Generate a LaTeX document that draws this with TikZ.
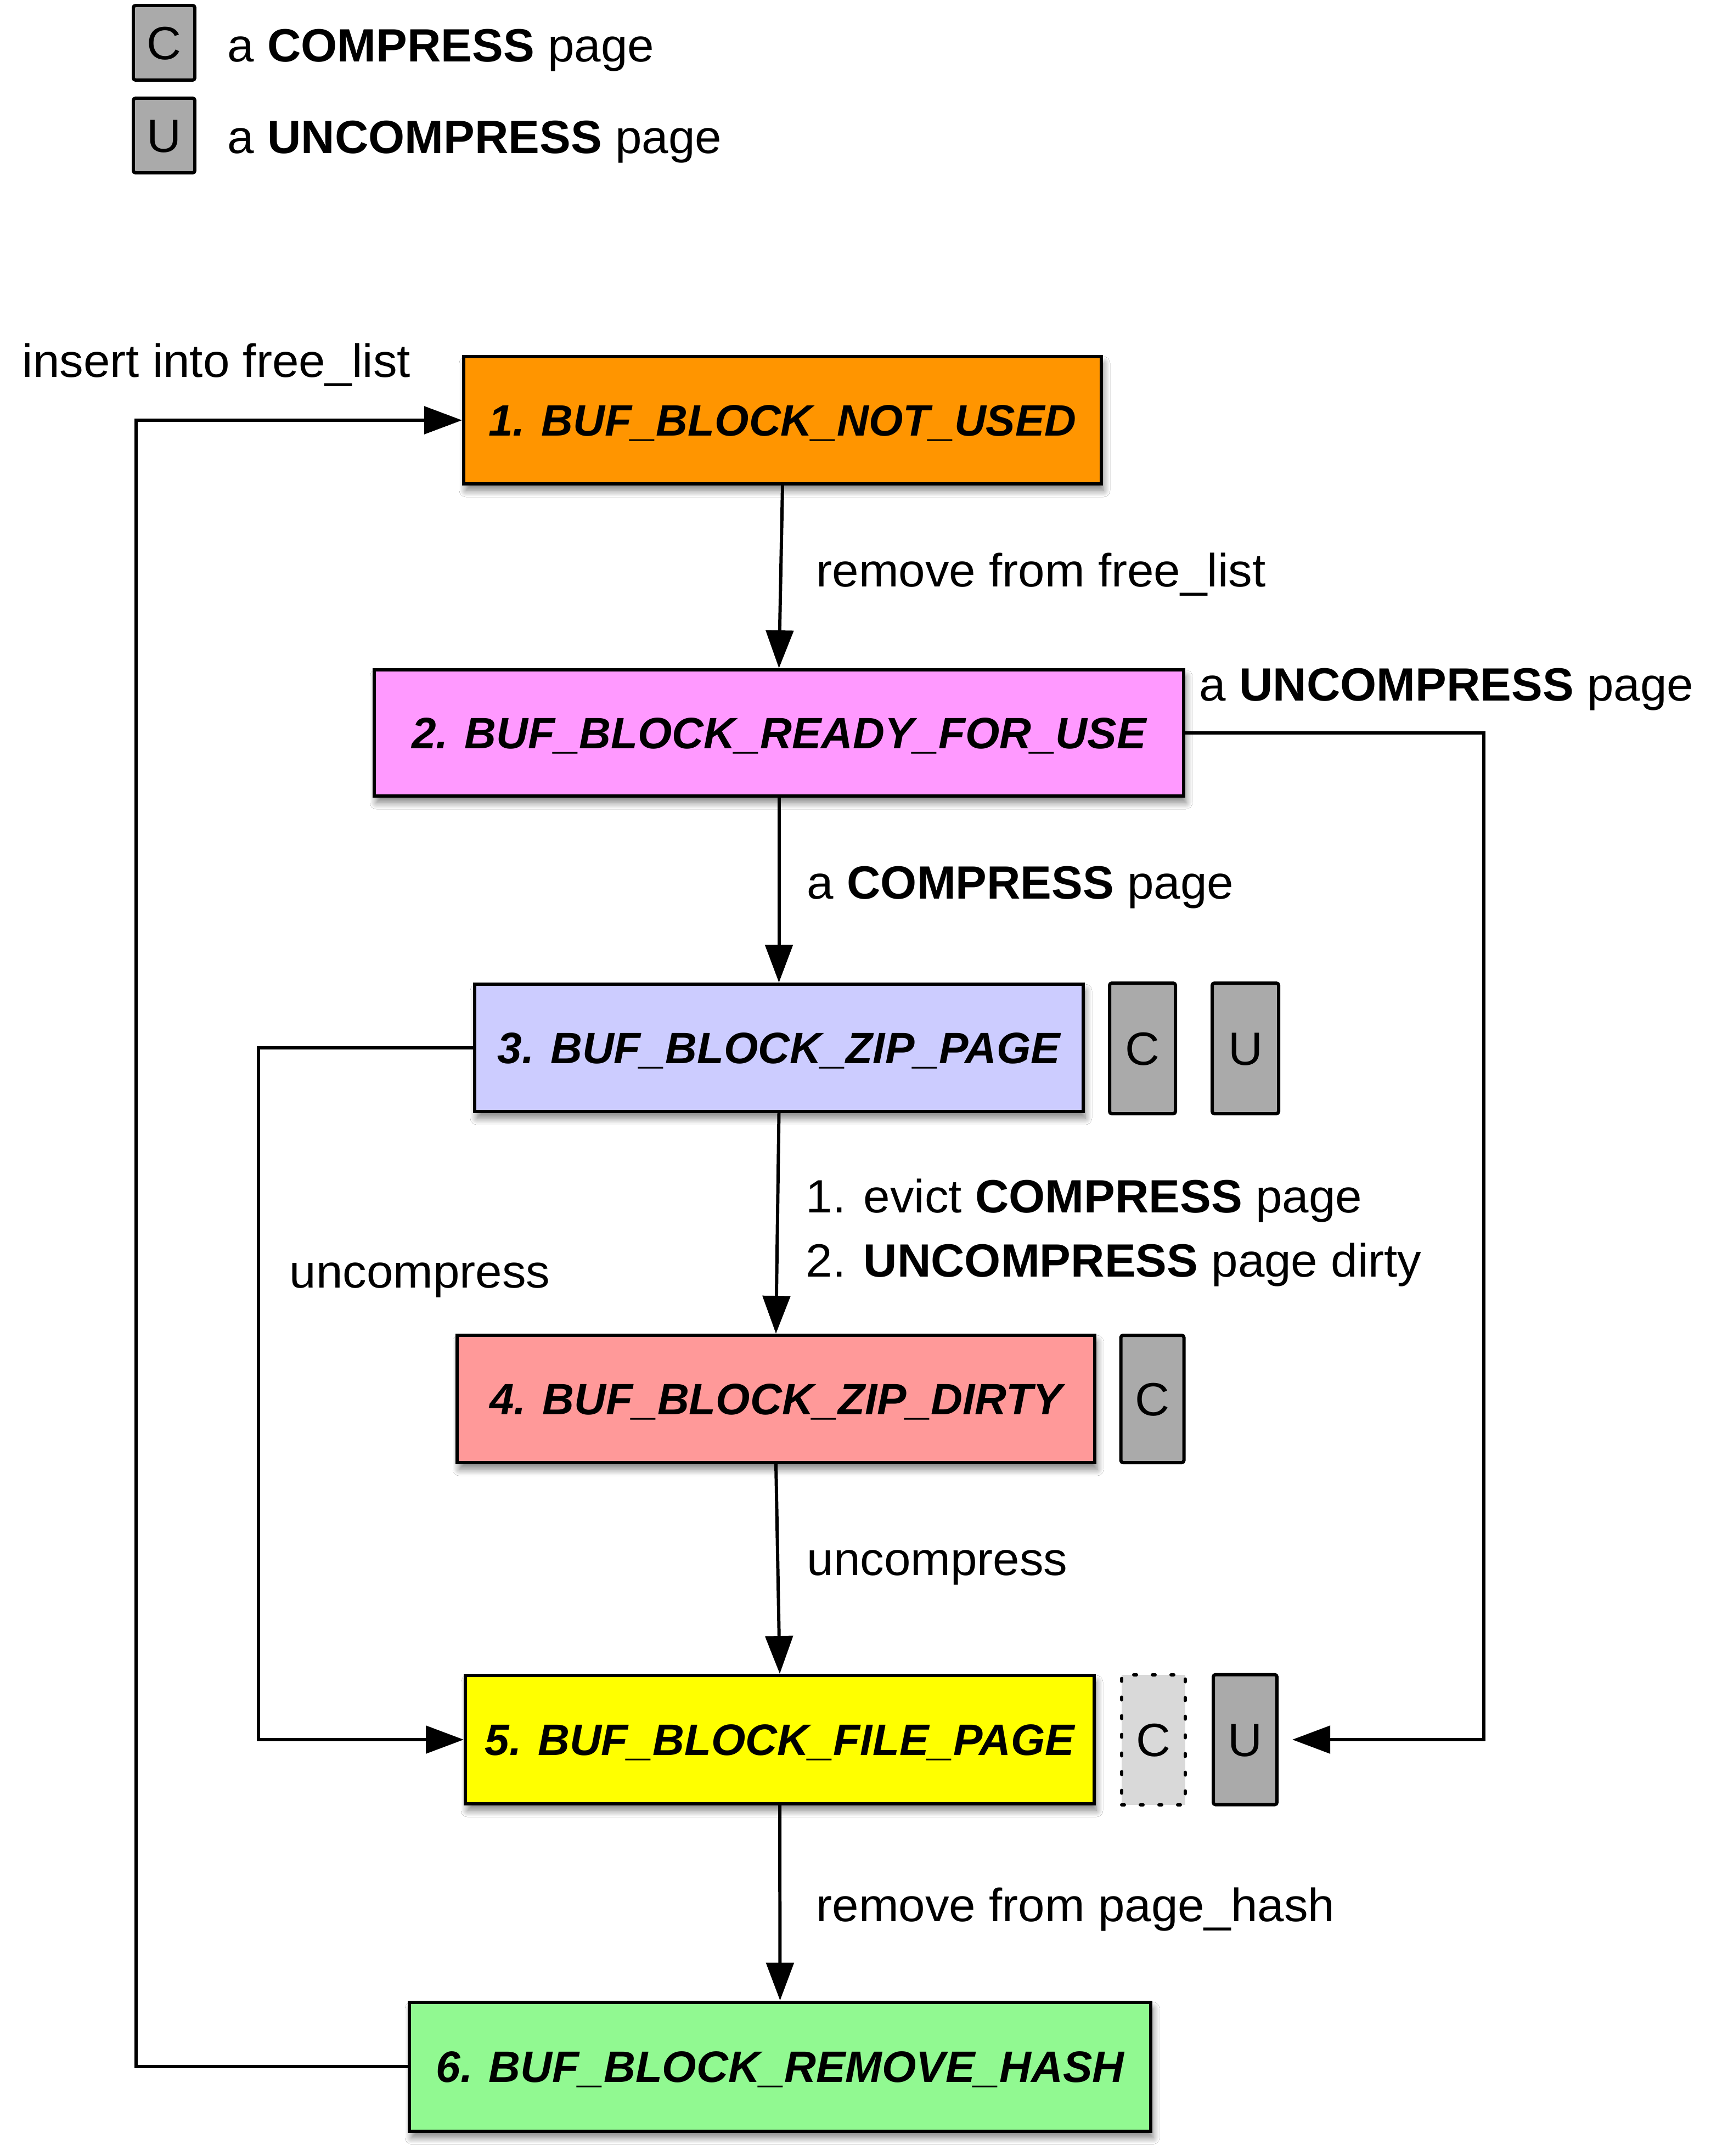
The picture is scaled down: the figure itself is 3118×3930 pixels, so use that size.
\documentclass[tikz,border=0pt]{standalone}
\usepackage{fontspec}
\setmainfont{Liberation Sans}[UprightFeatures={FakeStretch=1.025}]
\usetikzlibrary{arrows.meta,shadows.blur}
\definecolor{cOrange}{HTML}{FF9500}
\definecolor{cPink}{HTML}{FF99FF}
\definecolor{cLav}{HTML}{CCCCFF}
\definecolor{cSalmon}{HTML}{FF9999}
\definecolor{cYellow}{HTML}{FFFF00}
\definecolor{cGreen}{HTML}{91F991}
\definecolor{pgGray}{HTML}{AAAAAA}
\definecolor{pgLight}{HTML}{D9D9D9}
\begin{document}
\begin{tikzpicture}[x=0.1mm,y=-0.1mm,
  lbl/.style={anchor=base west, inner sep=0pt, font=\fontsize{24.2pt}{29pt}\selectfont},
  state/.style={draw=black, line width=1.7pt, inner sep=0pt, text height=16.3pt, text depth=0pt,
    font=\fontsize{22.8pt}{27pt}\selectfont\bfseries\itshape,
    blur shadow={shadow xshift=0.4mm, shadow yshift=-1.2mm, shadow blur radius=1.2mm, shadow blur steps=12, shadow opacity=50}},
  pagebox/.style={draw=black, line width=1.7pt, fill=pgGray, rounded corners=0.4mm, inner sep=0pt,
    minimum width=11.6mm, minimum height=23.4mm, text height=17.3pt, text depth=0pt,
    font=\fontsize{24.2pt}{29pt}\selectfont},
  ghostbox/.style={pagebox, fill=pgLight, rounded corners=0pt, line cap=round, dash pattern=on 0.5mm off 2.9mm},
  conn/.style={line width=1.7pt, -{Triangle[length=6.9mm,width=5mm]}}
]
\fill[white] (0,0) rectangle (3118,3930);
\useasboundingbox (0,0) rectangle (3118,3930);

% legend
\node[pagebox, minimum width=11.2mm, minimum height=13.6mm] (lc) at (299,78) {C};
\node[pagebox, minimum width=11.2mm, minimum height=13.6mm] (lu) at (299,247) {U};
\node[lbl] (lct) at (414,112) {a \textbf{COMPRESS} page};
\node[lbl] (lut) at (414,279) {a \textbf{UNCOMPRESS} page};

% states
\node[state, fill=cOrange, minimum width=116.2mm, minimum height=23.2mm] (n1) at (1426,766) {1. BUF\_BLOCK\_NOT\_USED};
\node[state, fill=cPink, minimum width=147.5mm, minimum height=23.0mm] (n2) at (1419.5,1336) {2. BUF\_BLOCK\_READY\_FOR\_USE};
\node[state, fill=cLav, minimum width=110.9mm, minimum height=23.2mm] (n3) at (1419.5,1910) {3. BUF\_BLOCK\_ZIP\_PAGE};
\node[state, fill=cSalmon, minimum width=116.2mm, minimum height=23.2mm] (n4) at (1414,2550) {4. BUF\_BLOCK\_ZIP\_DIRTY};
\node[state, fill=cYellow, minimum width=114.6mm, minimum height=23.4mm] (n5) at (1421,3171) {5. BUF\_BLOCK\_FILE\_PAGE};
\node[state, fill=cGreen, minimum width=135.1mm, minimum height=23.5mm] (n6) at (1421.5,3767) {6. BUF\_BLOCK\_REMOVE\_HASH};

% page boxes
\node[pagebox, minimum width=12.0mm, minimum height=23.8mm] (c3) at (2082,1911) {C};
\node[pagebox, minimum width=12.1mm, minimum height=23.8mm] (u3) at (2269.5,1911) {U};
\node[pagebox, minimum width=11.5mm, minimum height=23.2mm] (c4) at (2100,2550) {C};
\node[ghostbox, minimum width=11.6mm, minimum height=23.7mm] (c5) at (2102,3171) {C};
\node[pagebox, minimum width=11.6mm, minimum height=23.7mm] (u5) at (2269,3171) {U};

% coordinates for bends
\coordinate (l61) at (248,3767);
\coordinate (l35) at (471,1910);
\coordinate (r25) at (2704,1336);

% connectors
\draw[conn] (n1.south) -- (n2.north);
\draw[conn] (n2.south) -- (n3.north);
\draw[conn] (n3.south) -- (n4.north);
\draw[conn] (n4.south) -- (n5.north);
\draw[conn] (n5.south) -- (n6.north);
\draw[conn] (n6.west) -- (l61) |- (n1.west);
\draw[conn] (n3.west) -- (l35) |- (n5.west);
\draw[conn, shorten >=2.5mm] (n2.east) -- (r25) |- (u5.east);

% labels
\node[lbl] (t1) at (40,687) {insert into free\_list};
\node[lbl] (t2) at (1487,1069) {remove from free\_list};
\node[lbl] (t3) at (2185,1277) {a \textbf{UNCOMPRESS} page};
\node[lbl] (t4) at (1470,1638) {a \textbf{COMPRESS} page};
\node[lbl] (t5) at (1468,2210) {1. evict \textbf{COMPRESS} page};
\node[lbl] (t6) at (1468,2327) {2. \textbf{UNCOMPRESS} page dirty};
\node[lbl] (t7) at (527,2347) {uncompress};
\node[lbl] (t8) at (1470,2871) {uncompress};
\node[lbl] (t9) at (1487,3502) {remove from page\_hash};
\end{tikzpicture}
\end{document}
